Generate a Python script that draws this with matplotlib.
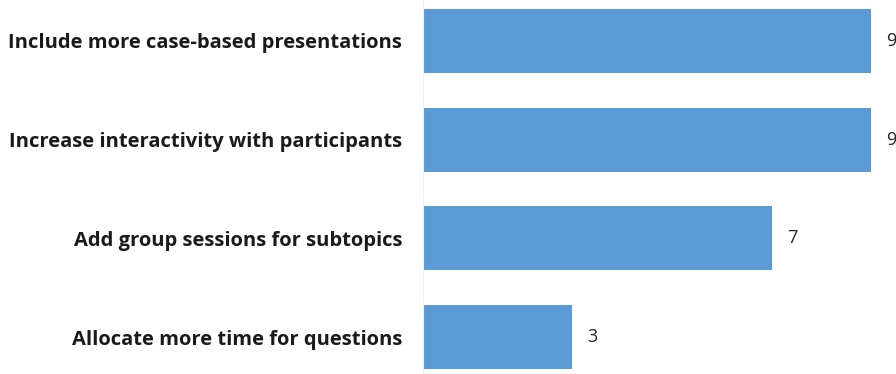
import matplotlib.pyplot as plt

suggestions = ['Include more case-based presentations',
               'Increase interactivity with participants',
               'Add group sessions for subtopics',
               'Allocate more time for questions']
counts = [9, 9, 7, 3]

bar_color = '#5B9BD5'

fig = plt.figure(figsize=(8.96, 3.74), dpi=100)
ax = fig.add_axes([423 / 896, 0, 473 / 896, 1])

ypos = list(range(len(suggestions)))
ax.barh(ypos, counts, height=0.65, color=bar_color)

for y, v in zip(ypos, counts):
    ax.annotate(str(v), (v, y), xytext=(11, 0), textcoords='offset points',
                va='center', ha='left', fontsize=13, color='#262626',
                family='Open Sans')

ax.set_xlim(0, 9.5)
ax.set_ylim(3.374, -0.415)
ax.set_yticks(ypos)
ax.set_yticklabels(suggestions, fontsize=14.5, fontweight='bold',
                   family='Open Sans', color='#1a1a1a')
ax.tick_params(axis='y', length=0, pad=15)
ax.set_xticks([])
for s in ['top', 'right', 'bottom']:
    ax.spines[s].set_visible(False)
ax.spines['left'].set_color('#f0f0f0')

fig.savefig('out.png', dpi=100)
